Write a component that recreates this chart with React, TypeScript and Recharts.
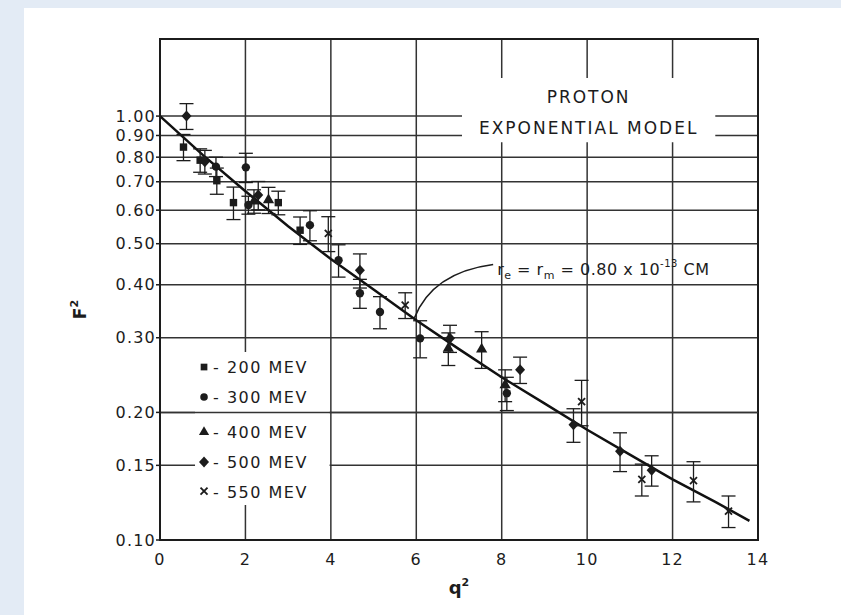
import {
  ComposedChart,
  Line,
  Scatter,
  XAxis,
  YAxis,
  ZAxis,
  CartesianGrid,
  ErrorBar,
  ReferenceArea,
  ReferenceLine,
  ReferenceDot,
  Symbols,
} from 'recharts';

// fitted curve
const MODEL_Q2 = [0, 1, 2, 3, 4, 5, 6, 7, 8, 9, 10, 11, 12, 13, 13.8];
const MODEL_F2 = [1.0, 0.81, 0.665, 0.55, 0.46, 0.39, 0.33, 0.282, 0.242, 0.21, 0.182, 0.159, 0.139, 0.123, 0.111];

// measurements per beam energy (q2, F2, error)
const Q2_200 = [0.55, 0.94, 1.33, 1.72, 2.77, 3.28];
const F2_200 = [0.845, 0.787, 0.704, 0.625, 0.625, 0.538];
const ERR_200 = [0.06, 0.05, 0.05, 0.055, 0.04, 0.04];

const Q2_300 = [1.31, 2.01, 2.07, 3.51, 4.18, 4.68, 5.15, 6.09, 8.12];
const F2_300 = [0.76, 0.757, 0.617, 0.553, 0.457, 0.382, 0.345, 0.299, 0.222];
const ERR_300 = [0.04, 0.06, 0.03, 0.045, 0.04, 0.03, 0.03, 0.03, 0.02];

const Q2_400 = [2.2, 2.54, 6.75, 7.53, 8.08];
const F2_400 = [0.63, 0.634, 0.283, 0.282, 0.232];
const ERR_400 = [0.04, 0.045, 0.025, 0.028, 0.02];

const Q2_500 = [0.62, 1.05, 2.3, 4.68, 6.79, 8.43, 9.68, 10.77, 11.51];
const F2_500 = [1.0, 0.78, 0.651, 0.433, 0.299, 0.252, 0.187, 0.162, 0.146];
const ERR_500 = [0.07, 0.05, 0.05, 0.04, 0.022, 0.018, 0.017, 0.017, 0.012];

const Q2_550 = [3.94, 5.74, 9.87, 11.28, 12.49, 13.31];
const F2_550 = [0.529, 0.358, 0.212, 0.139, 0.138, 0.117];
const ERR_550 = [0.05, 0.025, 0.026, 0.012, 0.015, 0.01];

const X_TICKS = [0, 2, 4, 6, 8, 10, 12, 14];
const Y_TICKS = [0.1, 0.15, 0.2, 0.3, 0.4, 0.5, 0.6, 0.7, 0.8, 0.9, 1.0];
const LEGEND_LABELS = ['- 200 MEV', '- 300 MEV', '- 400 MEV', '- 500 MEV', '- 550 MEV'];

const INK = '#1c1c1c';
const FONT = '"DejaVu Sans", sans-serif';

const rows = (q: number[], f: number[], e?: number[]) =>
  q.map((v, i) => ({ q2: v, f2: f[i], err: e ? e[i] : 0 }));

const modelData = rows(MODEL_Q2, MODEL_F2);

const XMark = (props: any) => {
  const { cx, cy } = props;
  if (cx == null || cy == null) return null;
  return (
    <g stroke={INK} strokeWidth={1.8}>
      <line x1={cx - 3.5} y1={cy - 3.5} x2={cx + 3.5} y2={cy + 3.5} />
      <line x1={cx - 3.5} y1={cy + 3.5} x2={cx + 3.5} y2={cy - 3.5} />
    </g>
  );
};

const Diamond = (props: any) => {
  const { cx, cy } = props;
  if (cx == null || cy == null) return null;
  return <polygon points={`${cx},${cy - 5.5} ${cx + 5},${cy} ${cx},${cy + 5.5} ${cx - 5},${cy}`} fill={INK} />;
};

const LegendBox = (props: any) => {
  const { x, y } = props.viewBox;
  const offs = [15, 45, 80, 110, 140];
  const types = ['square', 'circle', 'triangle'];
  return (
    <g>
      {LEGEND_LABELS.map((lab, i) => (
        <g key={lab}>
          {i < 3 && <Symbols cx={x + 9} cy={y + offs[i]} type={types[i] as any} size={45} fill={INK} />}
          {i === 3 && <Diamond cx={x + 9} cy={y + offs[i]} />}
          {i === 4 && <XMark cx={x + 9} cy={y + offs[i] - 1} />}
          <text x={x + 18} y={y + offs[i] + 6} fontSize={16} letterSpacing={1.5} fill={INK} fontFamily={FONT}>
            {lab}
          </text>
        </g>
      ))}
    </g>
  );
};

const TitleBox = (props: any) => {
  const { x, y, width } = props.viewBox;
  const mid = x + width / 2;
  return (
    <g fontFamily={FONT} fill={INK} fontSize={17} letterSpacing={2} textAnchor="middle">
      <text x={mid} y={y + 25}>PROTON</text>
      <text x={mid} y={y + 56}>EXPONENTIAL MODEL</text>
    </g>
  );
};

const Annotation = (props: any) => {
  const { cx, cy } = props;
  return (
    <g>
      <path d={`M ${cx} ${cy} Q ${cx + 18} ${cy - 46} ${cx + 79} ${cy - 54}`} fill="none" stroke={INK} strokeWidth={1.6} />
      <text x={cx + 83} y={cy - 44} fontSize={16} fill={INK} fontFamily={FONT} letterSpacing={0.5}>
        r<tspan fontSize={11} dy={4}>e</tspan>
        <tspan dy={-4}> = r</tspan>
        <tspan fontSize={11} dy={4}>m</tspan>
        <tspan dy={-4}> = 0.80 x 10</tspan>
        <tspan fontSize={10} dy={-8}>-13</tspan>
        <tspan dy={8}> CM</tspan>
      </text>
    </g>
  );
};

const XLabel = (props: any) => {
  const { x, y, width } = props.viewBox;
  return (
    <text x={x + width / 2} y={y + 54} textAnchor="middle" fontSize={18} fontWeight="bold" fill={INK} fontFamily={FONT}>
      q<tspan fontSize={11} dy={-8}>2</tspan>
    </text>
  );
};

const YLabel = (props: any) => {
  const { x, y, height } = props.viewBox;
  const cx = x + 66;
  const cy = y + height / 2 + 20;
  return (
    <text x={cx} y={cy} transform={`rotate(-90 ${cx} ${cy})`} textAnchor="middle" fontSize={17} fontWeight="bold" fill={INK} fontFamily={FONT}>
      F<tspan fontSize={11} dy={-8}>2</tspan>
    </text>
  );
};

const tickStyle = { fontSize: 16, fill: INK, fontFamily: FONT, letterSpacing: 1.2 };

export default function App() {
  return (
    <div style={{ position: 'absolute', left: 0, top: 0, width: 841, height: 615, background: '#e3ebf5', overflow: 'hidden' }}>
      <div style={{ position: 'absolute', left: 24, top: 8, width: 817, height: 607, background: '#fff' }} />
      <div style={{ position: 'absolute', left: 0, top: 0 }}>
        <ComposedChart width={841} height={615} margin={{ top: 39, right: 83, left: 20, bottom: 15 }}>
          <CartesianGrid stroke="#333" strokeWidth={1.5} />
          <XAxis
            dataKey="q2"
            type="number"
            domain={[0, 14]}
            ticks={X_TICKS}
            interval={0}
            allowDataOverflow
            height={60}
            tickLine={false}
            tickMargin={8}
            axisLine={{ stroke: INK, strokeWidth: 2 }}
            tick={tickStyle}
            label={XLabel}
          />
          <YAxis
            dataKey="f2"
            type="number"
            scale="log"
            domain={[0.1, 1.52]}
            ticks={Y_TICKS}
            interval={0}
            allowDataOverflow
            width={140}
            tickSize={4}
            tickMargin={0}
            tickLine={{ stroke: INK, strokeWidth: 1.5 }}
            axisLine={{ stroke: INK, strokeWidth: 2 }}
            tick={tickStyle}
            tickFormatter={(v: number) => v.toFixed(2)}
            label={YLabel}
          />
          <ZAxis range={[55, 55]} />
          <ReferenceArea x1={0} x2={14} y1={0.1} y2={1.52} fill="none" stroke={INK} strokeWidth={2} />
          <ReferenceArea x1={7.07} x2={13.0} y1={0.868} y2={1.23} fill="#fff" fillOpacity={1} stroke="none" label={TitleBox} />
          <ReferenceArea x1={0.82} x2={3.97} y1={0.121} y2={0.2776} fill="#fff" fillOpacity={1} stroke="none" label={LegendBox} />
          <ReferenceLine y={0.2} stroke="#333" strokeWidth={1.5} />
          <Line
            data={modelData}
            dataKey="f2"
            type="linear"
            dot={false}
            stroke="#111"
            strokeWidth={2.5}
            isAnimationActive={false}
          />
          <Scatter data={rows(Q2_200, F2_200, ERR_200)} dataKey="f2" shape="square" fill={INK} isAnimationActive={false}>
            <ErrorBar dataKey="err" direction="y" width={7} stroke={INK} strokeWidth={1.3} />
          </Scatter>
          <Scatter data={rows(Q2_300, F2_300, ERR_300)} dataKey="f2" shape="circle" fill={INK} isAnimationActive={false}>
            <ErrorBar dataKey="err" direction="y" width={7} stroke={INK} strokeWidth={1.3} />
          </Scatter>
          <Scatter data={rows(Q2_400, F2_400, ERR_400)} dataKey="f2" shape="triangle" fill={INK} isAnimationActive={false}>
            <ErrorBar dataKey="err" direction="y" width={7} stroke={INK} strokeWidth={1.3} />
          </Scatter>
          <Scatter data={rows(Q2_500, F2_500, ERR_500)} dataKey="f2" shape={Diamond} fill={INK} isAnimationActive={false}>
            <ErrorBar dataKey="err" direction="y" width={7} stroke={INK} strokeWidth={1.3} />
          </Scatter>
          <Scatter data={rows(Q2_550, F2_550, ERR_550)} dataKey="f2" shape={XMark} fill={INK} isAnimationActive={false}>
            <ErrorBar dataKey="err" direction="y" width={7} stroke={INK} strokeWidth={1.3} />
          </Scatter>
          <ReferenceDot x={5.95} y={0.333} r={0} shape={Annotation} />
        </ComposedChart>
      </div>
    </div>
  );
}
